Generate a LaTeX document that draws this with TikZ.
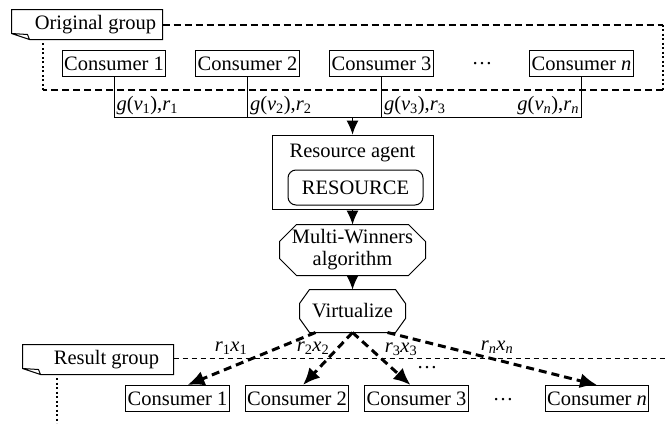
\documentclass[tikz,border=0pt]{standalone}
\usepackage{fontspec}
\setmainfont{Liberation Serif}
\usetikzlibrary{arrows.meta,positioning}

\tikzset{
  cons/.style={draw,rectangle,inner sep=2pt,minimum height=26pt},
  lbl/.style={inner sep=2pt},
  notebox/.style={inner sep=0pt,minimum width=133pt,minimum height=29pt,
    append after command={\pgfextra{\draw
      ([xshift=-17pt]\tikzlastnode.north west) -- (\tikzlastnode.north east)
        -- (\tikzlastnode.south east) -- ([xshift=1pt]\tikzlastnode.south west)
        -- ([xshift=-17pt,yshift=6pt]\tikzlastnode.south west) -- cycle
      ([xshift=-17pt,yshift=6pt]\tikzlastnode.south west)
        -- ([xshift=-1pt,yshift=5pt]\tikzlastnode.south west)
        -- ([xshift=1pt]\tikzlastnode.south west);}}},
  octbox/.style n args={4}{align=center,inner sep=0pt,minimum width=#1,minimum height=#2,
    append after command={\pgfextra{\draw
      ([xshift=#3]\tikzlastnode.north west) -- ([xshift=-#3]\tikzlastnode.north east)
        -- ([yshift=-#4]\tikzlastnode.north east) -- ([yshift=#4]\tikzlastnode.south east)
        -- ([xshift=-#3]\tikzlastnode.south east) -- ([xshift=#3]\tikzlastnode.south west)
        -- ([yshift=#4]\tikzlastnode.south west) -- ([yshift=-#4]\tikzlastnode.north west)
        -- cycle;}}},
  framedash/.style={line width=2pt,dash pattern=on 7pt off 4pt},
  framethin/.style={line width=1pt,dash pattern=on 5pt off 4pt},
  framedot/.style={line width=2.5pt,dash pattern=on 2pt off 2.5pt},
  vecarrow/.style={line width=3pt,dash pattern=on 8pt off 5pt,-{Latex[length=17pt,width=15pt]}}
}

\begin{document}
\begin{tikzpicture}[x=1pt,y=-1pt,line width=1pt,>={Latex[length=14pt,width=12pt]},
    font=\fontsize{20.5pt}{22pt}\selectfont]
\useasboundingbox (0,0) rectangle (666,423);

% original group
\node[notebox] (orig) at (95.5,24.5) {Original group};
\node[cons] (c1) at (114,63.5) {Consumer 1};
\node[cons] (c2) at (247.5,63.5) {Consumer 2};
\node[cons] (c3) at (381.5,63.5) {Consumer 3};
\node (cdots) at (482,63.5) {…};
\node[cons] (cn) at (581.5,63.5) {Consumer \textit{n}};

\draw[framedash] (orig.east) -- (663,24.5);
\draw[framedot] (663,24.5) -- (663,90);
\draw[framedash] (663,90) -- (43,90);
\draw[framedot] (43,90) -- (43,43);

% bids to the agent
\coordinate (bus) at (0,117);
\draw (c1.south) -- (c1.south |- bus) -- (cn.south |- bus) -- (cn.south);
\draw (c2.south) -- (c2.south |- bus);
\draw (c3.south) -- (c3.south |- bus);
\node[lbl,anchor=south west] (g1) at (c1.south |- bus) {\textit{g}(\textit{v}\textsubscript{1}),\textit{r}\textsubscript{1}};
\node[lbl,anchor=south west] (g2) at (c2.south |- bus) {\textit{g}(\textit{v}\textsubscript{2}),\textit{r}\textsubscript{2}};
\node[lbl,anchor=south west] (g3) at (c3.south |- bus) {\textit{g}(\textit{v}\textsubscript{3}),\textit{r}\textsubscript{3}};
\node[lbl,anchor=south east] (gn) at (cn.south |- bus) {\textit{g}(\textit{v}\textsubscript{\textit{n}}),\textit{r}\textsubscript{\textit{n}}};

% agent and algorithm
\node[draw,minimum width=161pt,minimum height=74pt] (agent) at (352.5,172) {};
\node (agentlbl) at (352.5,153) {Resource agent};
\node[draw,rounded corners=8pt,minimum width=135pt,minimum height=35pt] (res) at (355.5,187.5) {RESOURCE};
\node[octbox={145pt}{50pt}{17pt}{17pt}] (mw) at (352.5,250) {Multi-Winners\\algorithm};
\node[octbox={105pt}{42pt}{10pt}{14pt}] (virt) at (352.5,311) {Virtualize};

\draw[->] (agent.north |- bus) -- (agent.north);
\draw[->] (agent.south) -- (mw.north);
\draw[->] (mw.south) -- (virt.north);

% result group
\node[notebox] (resg) at (106.5,359.5) {Result group};
\draw[framethin] (resg.east |- 0,358) -- (666,358);
\draw[framedot] (57,378) -- (57,423);

\node[cons] (b1) at (177.5,398.5) {Consumer 1};
\node[cons] (b2) at (297,398.5) {Consumer 2};
\node[cons] (b3) at (416.5,398.5) {Consumer 3};
\node (bdots) at (503,400) {…};
\node[cons] (bn) at (597,398.5) {Consumer \textit{n}};

\draw[vecarrow] ([xshift=-37pt]virt.south) -- ([xshift=10pt]b1.north);
\draw[vecarrow] (virt.south) -- ([xshift=6pt]b2.north);
\draw[vecarrow] (virt.south) -- ([xshift=-6pt]b3.north);
\draw[vecarrow] ([xshift=35pt]virt.south) -- (bn.north);

\node (x1) at (231,348) {\textit{r}\textsubscript{1}\textit{x}\textsubscript{1}};
\node (x2) at (313,348) {\textit{r}\textsubscript{2}\textit{x}\textsubscript{2}};
\node (x3) at (401,349) {\textit{r}\textsubscript{3}\textit{x}\textsubscript{3}};
\node (xdots) at (427,368) {…};
\node (xn) at (497,347) {\textit{r}\textsubscript{\textit{n}}\textit{x}\textsubscript{\textit{n}}};

\end{tikzpicture}
\end{document}
